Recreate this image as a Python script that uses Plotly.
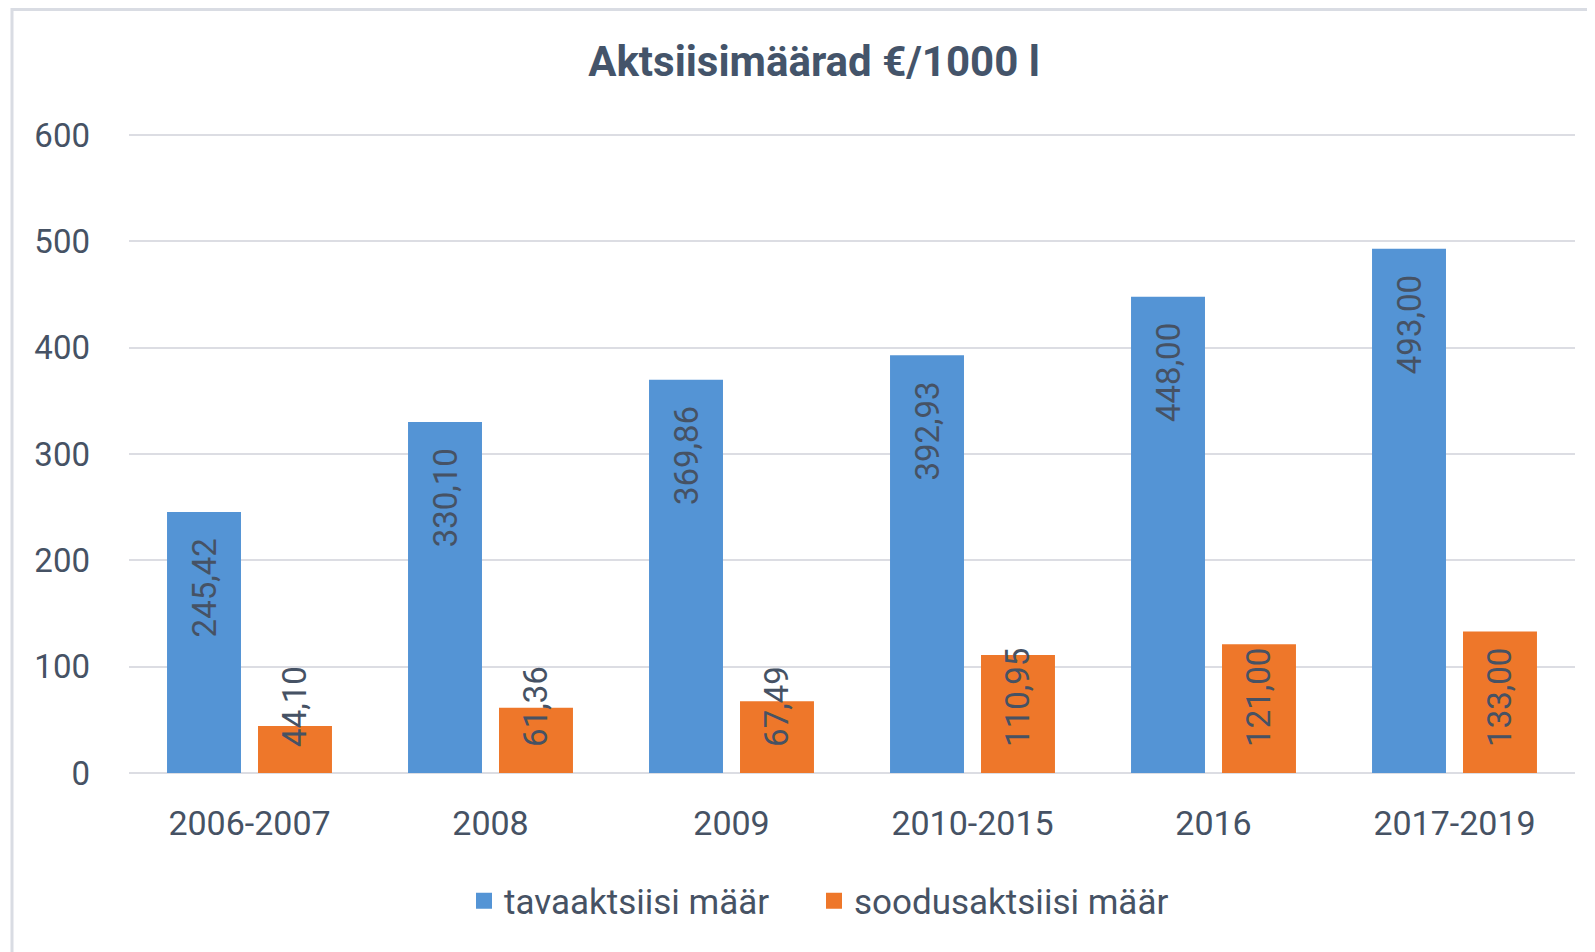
import plotly.graph_objects as go

categories = ["2006-2007", "2008", "2009", "2010-2015", "2016", "2017-2019"]
tava_values = [245.42, 330.10, 369.86, 392.93, 448.00, 493.00]
sooduse_values = [44.10, 61.36, 67.49, 110.95, 121.00, 133.00]
series_names = ["tavaaktsiisi määr", "soodusaktsiisi määr"]
y_ticks = [0, 100, 200, 300, 400, 500, 600]

W, H = 1595, 952
OFF = 8  # page body margin offset
ML, MR, MT, MB = 129 - OFF, 20 + OFF, 134 - OFF, 179 + OFF
PW = W - ML - MR
PH = H - MT - MB

FONT = "Roboto, 'Noto Sans', sans-serif"
TXT = "#465264"
BLUE = "#5494D5"
ORANGE = "#EE772A"
PAD = "\u00a0\u00a0\u2009"

fig = go.Figure()
fig.add_trace(go.Bar(
    x=categories, y=tava_values, name=series_names[0], showlegend=False,
    marker=dict(color=BLUE, line=dict(width=0)),
    texttemplate="%{y:.2f}" + PAD,
    textposition="inside", insidetextanchor="end", textangle=-90,
    constraintext="none",
    textfont=dict(family=FONT, size=33, color=TXT),
))
fig.add_trace(go.Bar(
    x=categories, y=sooduse_values, name=series_names[1], showlegend=False,
    marker=dict(color=ORANGE, line=dict(width=0)),
    texttemplate=PAD + "%{y:.2f}",
    textposition="inside", insidetextanchor="start", textangle=-90,
    constraintext="none", cliponaxis=False,
    textfont=dict(family=FONT, size=33, color=TXT),
))
# legend entries with larger square keys, one legend box per series
for name, col, lg in zip(series_names, [BLUE, ORANGE], ["legend", "legend2"]):
    fig.add_trace(go.Scatter(
        x=[None], y=[None], mode="markers", name=name, legend=lg,
        marker=dict(symbol="square", size=18, color=col),
    ))


def sx(px):
    """screen x pixel -> paper x"""
    return (px - OFF - ML) / PW


def sy(py):
    """screen y pixel -> paper y"""
    return (H - MB - (py - OFF)) / PH


legend_common = dict(
    orientation="h", xanchor="left", y=sy(901), yanchor="middle",
    font=dict(family=FONT, size=35, color=TXT),
    bgcolor="rgba(0,0,0,0)", itemwidth=30,
)

fig.update_layout(
    width=W, height=H,
    margin=dict(l=ML, r=MR, t=MT, b=MB, autoexpand=False),
    paper_bgcolor="white", plot_bgcolor="white",
    separators=", ",
    barmode="group", bargap=0.245, bargroupgap=0.187,
    title=dict(
        text="<b>Aktsiisimäärad €/1000 l</b>",
        font=dict(family=FONT, size=42, color="#44546A"),
        x=(814 - OFF) / W, xanchor="center", xref="container",
        y=1 - (61 - OFF) / H, yanchor="middle", yref="container",
    ),
    legend=dict(x=sx(464), **legend_common),
    legend2=dict(x=sx(814), **legend_common),
    showlegend=True,
    xaxis=dict(
        tickfont=dict(family=FONT, size=34, color=TXT),
        showgrid=False, showline=False, ticks="", ticklabelstandoff=27,
    ),
    yaxis=dict(
        range=[0, 601], tickvals=y_ticks,
        tickfont=dict(family=FONT, size=33, color=TXT),
        showgrid=True, gridcolor="#DCDDE3", gridwidth=2,
        zeroline=True, zerolinecolor="#DCDDE3", zerolinewidth=2,
        showline=False, ticks="", ticklabelstandoff=38,
    ),
    shapes=[dict(
        type="rect", xref="paper", yref="paper",
        x0=sx(12), x1=sx(1620),
        y0=sy(980), y1=sy(9.5),
        line=dict(color="#D9DCE3", width=3), fillcolor="rgba(0,0,0,0)",
        layer="below",
    )],
)

fig.write_html("out.html")
